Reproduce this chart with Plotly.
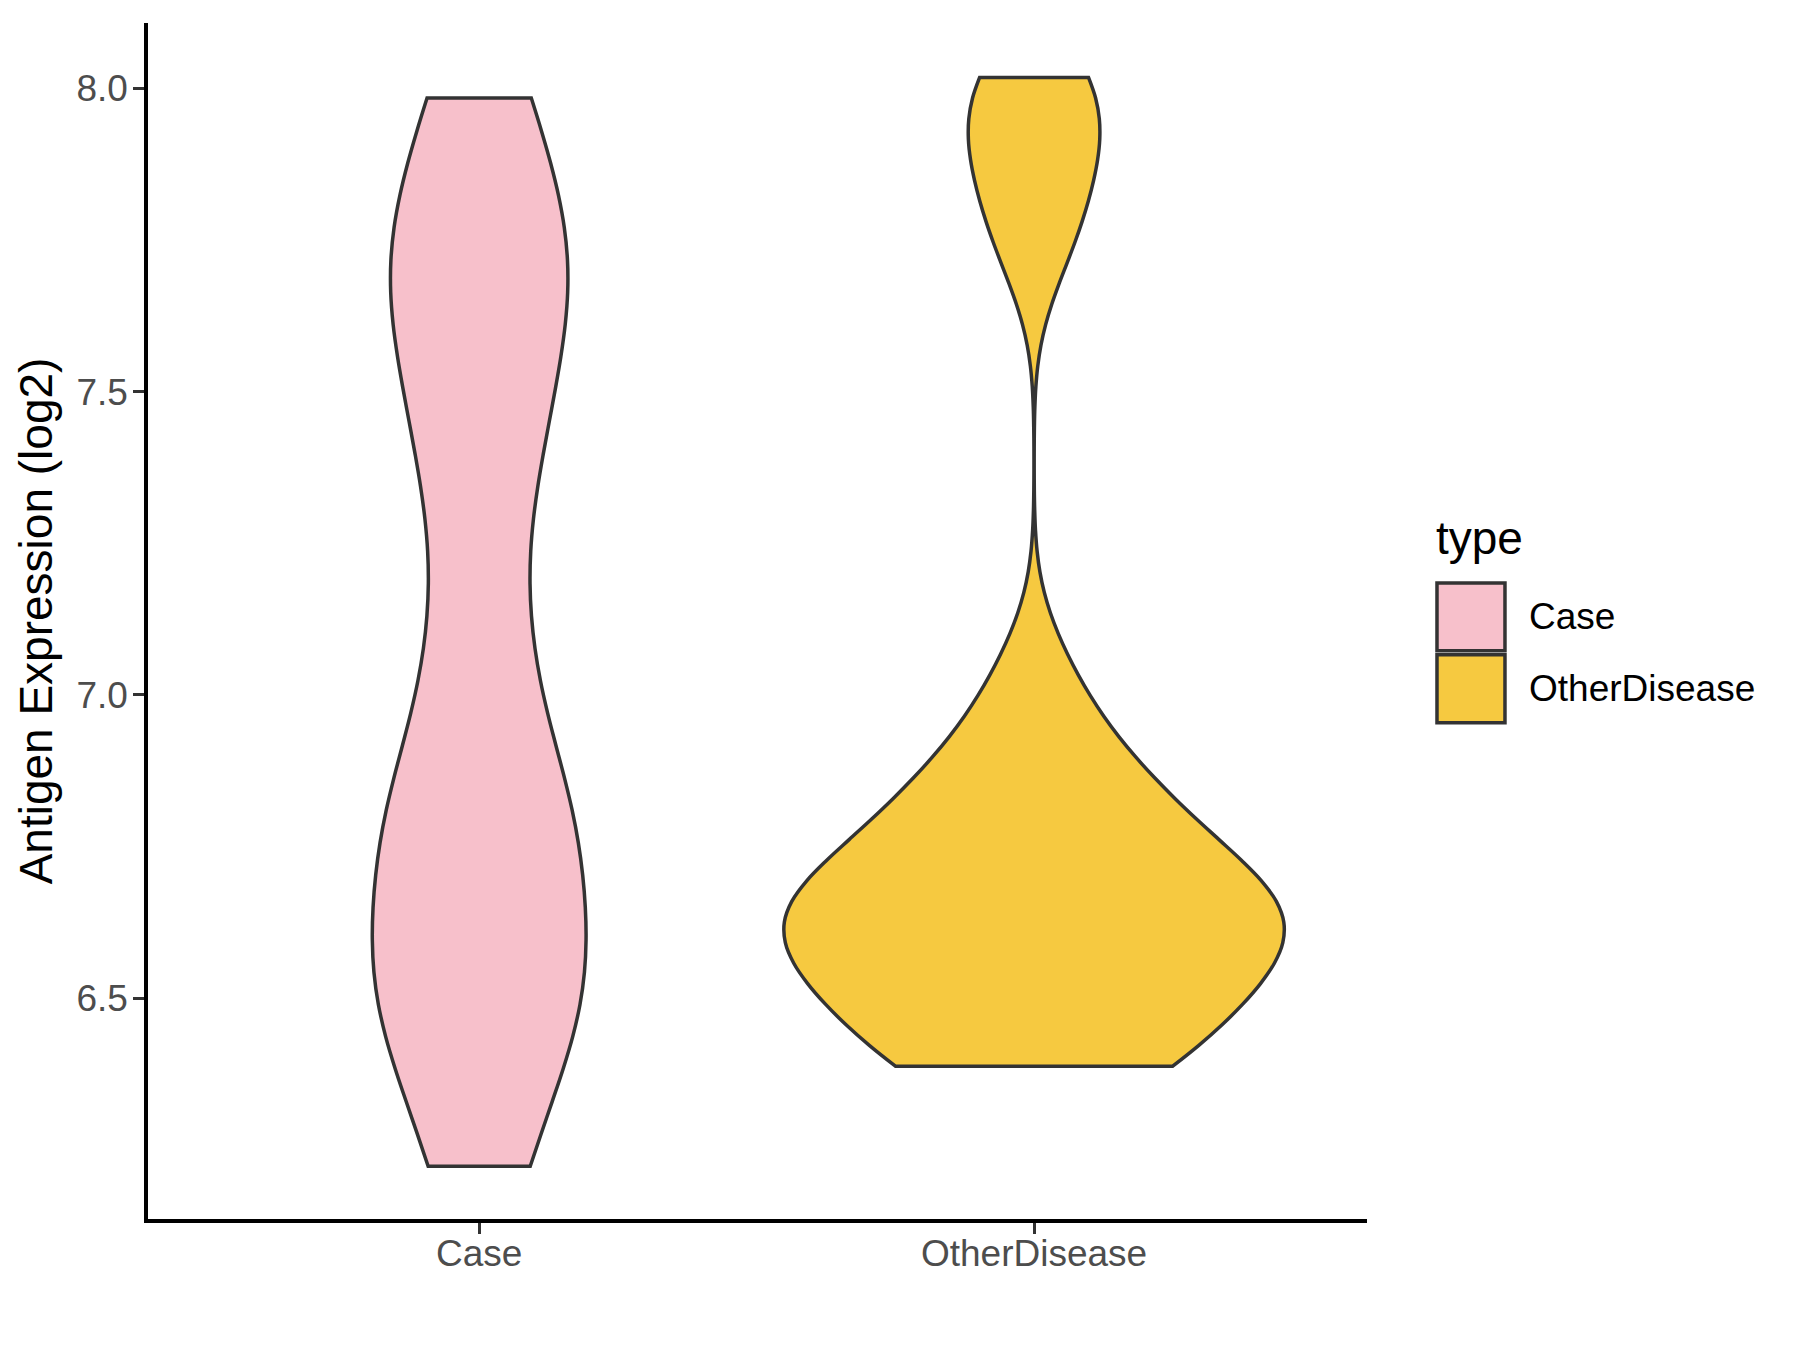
import plotly.graph_objects as go

# values (kde shape fitted to the drawn outlines)
CATEGORIES = ["Case", "OtherDisease"]
CASE_VALUES = [6.223, 6.477, 6.477, 6.628, 6.782, 6.838, 7.085, 7.363,
               7.543, 7.698, 7.775, 7.984]
OTHER_VALUES = [6.388, 6.388, 6.388, 6.388, 6.501, 6.501, 6.505, 6.507,
                6.531, 6.584, 6.618, 6.627, 6.636, 6.638, 6.651, 6.659,
                6.664, 6.693, 6.764, 6.786, 6.787, 6.841, 6.864, 6.940,
                7.034, 7.735, 7.832, 7.911, 7.987, 8.018]
BANDWIDTHS = [0.1647, 0.1019]
COLORS = ["#F7C0CB", "#F6C940"]
Y_TICKS = [6.5, 7.0, 7.5, 8.0]

LEGEND_TITLE = "type"
Y_TITLE = "Antigen Expression (log2)"

FONT = "Liberation Sans, Arial, sans-serif"
OUTLINE = "#333333"
BASE_SIZE = 46
SMALL_SIZE = 37
AXIS_LINE_W = 3.5

# panel on screen, as in the reference (page body adds an 8px offset)
PAGE_OFFSET = 8
PANEL_LEFT, PANEL_RIGHT, PANEL_TOP, PANEL_BOTTOM = 146, 1367, 23, 1221
W, H = 1800, 1350

# plotly draws axis lines just outside the plot area, so pull the plot
# area in by half a line width and stretch the ranges to keep the mapping
INSET = AXIS_LINE_W / 2
PLOT_LEFT = PANEL_LEFT + INSET
PLOT_BOTTOM = PANEL_BOTTOM - INSET
PLOT_RIGHT, PLOT_TOP = PANEL_RIGHT, PANEL_TOP


def to_paper(px, py):
    return ((px - PLOT_LEFT) / (PLOT_RIGHT - PLOT_LEFT),
            (PLOT_BOTTOM - py) / (PLOT_BOTTOM - PLOT_TOP))


series = [CASE_VALUES, OTHER_VALUES]

fig = go.Figure()
for name, values, bw, color in zip(CATEGORIES, series, BANDWIDTHS, COLORS):
    fig.add_trace(
        go.Violin(
            x=[name] * len(values),
            y=values,
            name=name,
            bandwidth=bw,
            spanmode="hard",
            points=False,
            box_visible=False,
            meanline_visible=False,
            fillcolor=color,
            opacity=1,
            line=dict(color=OUTLINE, width=3.5),
            # no explicit width, so the shared scale group sizes both
            # violins from one density maximum (ggplot's scale="area")
            scalemode="width",
            scalegroup="all",
            showlegend=False,
            hoverinfo="y+name",
        )
    )

# ggplot-style expansion: 5% of the data range, 0.6 around discrete levels
all_vals = CASE_VALUES + OTHER_VALUES
span = max(all_vals) - min(all_vals)
y_lo, y_hi = min(all_vals) - 0.05 * span, max(all_vals) + 0.05 * span
x_lo, x_hi = -0.6, len(CATEGORIES) - 0.4
x_lo += INSET * (x_hi - x_lo) / (PANEL_RIGHT - PANEL_LEFT)
y_lo += INSET * (y_hi - y_lo) / (PANEL_BOTTOM - PANEL_TOP)

axis_style = dict(
    showgrid=False,
    zeroline=False,
    showline=True,
    linecolor="black",
    linewidth=AXIS_LINE_W,
    ticks="outside",
    ticklen=11,
    tickwidth=3,
    tickcolor=OUTLINE,
    tickfont=dict(family=FONT, size=SMALL_SIZE, color="#4D4D4D"),
)
fig.update_xaxes(
    type="category",
    categoryorder="array",
    categoryarray=CATEGORIES,
    range=[x_lo, x_hi],
    ticklabelstandoff=-12,
    **axis_style,
)
fig.update_yaxes(
    range=[y_lo, y_hi],
    tickvals=Y_TICKS,
    tickformat=".1f",
    ticklabelstandoff=-2,
    title=dict(text=Y_TITLE, font=dict(family=FONT, size=BASE_SIZE, color="black"), standoff=10),
    **axis_style,
)

# legend drawn as keys + labels to get ggplot-sized keys
key_left, key_size, key_pitch, first_key_top = 1437, 68, 72, 583
label_left = 1527
tx, ty = to_paper(1434, 538)
fig.add_annotation(text=LEGEND_TITLE, x=tx, y=ty, xref="paper", yref="paper",
                   xanchor="left", yanchor="middle", showarrow=False,
                   font=dict(family=FONT, size=BASE_SIZE, color="black"))
for i, (name, color) in enumerate(zip(CATEGORIES, COLORS)):
    top = first_key_top + i * key_pitch
    x0, y0 = to_paper(key_left, top)
    x1, y1 = to_paper(key_left + key_size, top + key_size)
    fig.add_shape(type="rect", xref="paper", yref="paper", x0=x0, x1=x1, y0=y1, y1=y0,
                  fillcolor=color, line=dict(color=OUTLINE, width=3.5))
    lx, ly = to_paper(label_left, top + key_size / 2)
    fig.add_annotation(text=name, x=lx, y=ly, xref="paper", yref="paper",
                       xanchor="left", yanchor="middle", showarrow=False,
                       font=dict(family=FONT, size=SMALL_SIZE, color="black"))

fig.update_layout(
    width=W,
    height=H,
    violinmode="overlay",
    violingap=0.1,
    violingroupgap=0,
    showlegend=False,
    paper_bgcolor="white",
    plot_bgcolor="white",
    font=dict(family=FONT),
    margin=dict(
        l=PLOT_LEFT - PAGE_OFFSET,
        r=W - PLOT_RIGHT + PAGE_OFFSET,
        t=PLOT_TOP - PAGE_OFFSET,
        b=H - PLOT_BOTTOM + PAGE_OFFSET,
        autoexpand=False,
    ),
)

fig.write_html("out.html")
